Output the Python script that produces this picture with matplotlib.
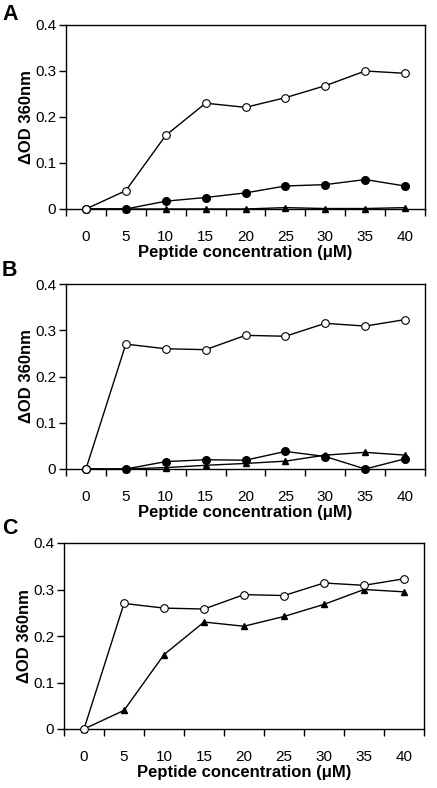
import matplotlib
matplotlib.use("Agg")
import matplotlib.pyplot as plt
import numpy as np

plt.rcParams['font.family'] = ['Liberation Sans', 'DejaVu Sans']

conc = ["0", "5", "10", "15", "20", "25", "30", "35", "40"]

A_open = [0, 0.040, 0.160, 0.230, 0.221, 0.242, 0.268, 0.300, 0.295]
A_filled = [0, 0, 0.017, 0.025, 0.035, 0.050, 0.053, 0.064, 0.050]
A_tri = [0, 0, 0, 0, 0, 0.003, 0.001, 0.001, 0.003]

B_open = [0, 0.270, 0.260, 0.258, 0.289, 0.287, 0.315, 0.309, 0.323]
B_filled = [0, 0, 0.016, 0.020, 0.019, 0.038, 0.027, 0, 0.022]
B_tri = [0, 0, 0.003, 0.008, 0.012, 0.017, 0.030, 0.036, 0.030]

C_open = [0, 0.270, 0.260, 0.258, 0.289, 0.287, 0.314, 0.309, 0.323]
C_tri = [0, 0.040, 0.160, 0.230, 0.221, 0.242, 0.268, 0.300, 0.295]

yticks = [0, 0.1, 0.2, 0.3, 0.4]
yticklabels = ["0", "0.1", "0.2", "0.3", "0.4"]

fig = plt.figure(figsize=(4.37, 7.88), dpi=100)

positions = [
    (66/437, 1-209/788, 359/437, 184/788),
    (66/437, 1-469/788, 359/437, 185/788),
    (64/437, 1-729/788, 360/437, 186/788),
]
letters = ["A", "B", "C"]
letter_y = [15, 271, 529]

def series_plot(ax, vals, kind):
    x = np.arange(len(conc))
    if kind == "open":
        ax.plot(x, vals, '-', color='black', lw=1.0, marker='o', ms=5.5,
                mfc='white', mec='black', mew=0.8, clip_on=False, zorder=3)
    elif kind == "filled":
        ax.plot(x, vals, '-', color='black', lw=1.0, marker='o', ms=5.5,
                mfc='black', mec='black', clip_on=False, zorder=3)
    else:
        ax.plot(x, vals, '-', color='black', lw=1.0, marker='^', ms=5,
                mfc='black', mec='black', clip_on=False, zorder=3)

data = [
    [(A_tri, "tri"), (A_filled, "filled"), (A_open, "open")],
    [(B_tri, "tri"), (B_filled, "filled"), (B_open, "open")],
    [(C_tri, "tri"), (C_open, "open")],
]

for i, pos in enumerate(positions):
    ax = fig.add_axes(pos)
    for vals, kind in data[i]:
        series_plot(ax, vals, kind)
    ax.set_xlim(-0.5, len(conc) - 0.5)
    ax.set_ylim(0, 0.4)
    ax.set_yticks(yticks)
    ax.set_yticklabels(yticklabels, fontsize=11)
    ax.set_xticks(np.arange(len(conc) + 1) - 0.5)
    ax.set_xticklabels([])
    ax.set_xticks(np.arange(len(conc)), minor=True)
    ax.set_xticklabels(conc, minor=True, fontsize=11)
    ax.tick_params(axis='x', which='major', direction='out', length=5, width=1)
    ax.tick_params(axis='x', which='minor', length=0, pad=15)
    ax.tick_params(axis='y', direction='out', length=5, width=1, pad=2)
    for s in ax.spines.values():
        s.set_linewidth(1.0)
    ax.set_xlabel("Peptide concentration (\u03bcM)", fontsize=12, fontweight='bold', labelpad=1)
    ax.set_ylabel("\u0394OD 360nm", fontsize=12, fontweight='bold', labelpad=1)
    fig.text(2/437, 1 - letter_y[i]/788, letters[i], fontsize=15.5, fontweight='bold',
             ha='left', va='center')

fig.savefig("out.png", dpi=100)
